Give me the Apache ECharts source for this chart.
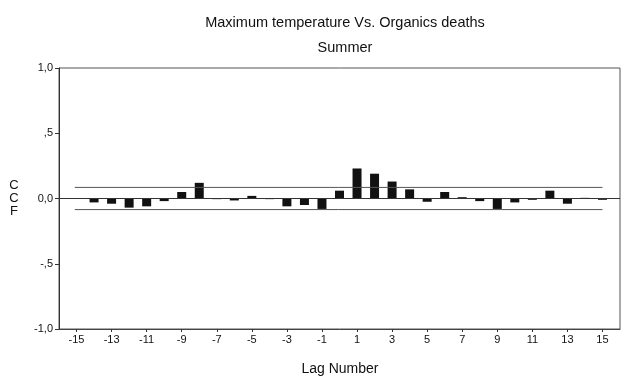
<!DOCTYPE html>
<html>
<head>
<meta charset="utf-8">
<script src="https://cdn.jsdelivr.net/npm/echarts@6/dist/echarts.min.js"></script>
<style>html,body{margin:0;padding:0;background:#fff;}#c{width:622px;height:378px;}</style>
</head>
<body>
<div id="c"></div>
<script>
var lags = [-15,-14,-13,-12,-11,-10,-9,-8,-7,-6,-5,-4,-3,-2,-1,0,1,2,3,4,5,6,7,8,9,10,11,12,13,14,15];
var ccf = [0.0,-0.03,-0.04,-0.07,-0.06,-0.02,0.05,0.12,-0.005,-0.015,0.02,-0.005,-0.06,-0.05,-0.08,0.06,0.23,0.19,0.13,0.07,-0.025,0.05,0.01,-0.02,-0.08,-0.03,-0.01,0.06,-0.04,0.005,-0.01];
var upperLimit = 0.085;
var lowerLimit = -0.085;
var xTickLabels = ['-15','-13','-11','-9','-7','-5','-3','-1','1','3','5','7','9','11','13','15'];
var yTickValues = [-1, -0.5, 0, 0.5, 1];
var yTickLabels = ['-1,0', '-,5', '0,0', ',5', '1,0'];

var barData = lags.map(function (l, i) { return [l, ccf[i]]; });
var chart = echarts.init(document.getElementById('c'));
var font = 'Liberation Sans, Arial, sans-serif';
function letter(t, y) {
  return { type: 'text', x: 14, y: y, style: { text: t, fontFamily: font, fontSize: 13,
    align: 'center', verticalAlign: 'middle', fill: '#111' } };
}
chart.setOption({
  backgroundColor: '#fff',
  animation: false,
  title: [
    { text: 'Maximum temperature Vs. Organics deaths', left: 340, top: 10, textAlign: 'center',
      textStyle: { fontFamily: font, fontSize: 14.5, fontWeight: 'normal', color: '#111' } },
    { text: 'Summer', left: 340, top: 35, textAlign: 'center',
      textStyle: { fontFamily: font, fontSize: 14.5, fontWeight: 'normal', color: '#111' } }
  ],
  graphic: [
    letter('C', 185), letter('C', 198), letter('F', 211),
    { type: 'text', x: 340, y: 369, style: { text: 'Lag Number', fontFamily: font, fontSize: 14,
      align: 'center', verticalAlign: 'middle', fill: '#111' } }
  ],
  grid: { left: 59, right: 2, top: 68, bottom: 49, show: true, borderColor: '#555', borderWidth: 1 },
  xAxis: [
    { type: 'value', min: -16, max: 16, show: false, splitLine: { show: false } },
    { type: 'category', data: xTickLabels, boundaryGap: true, position: 'bottom',
      axisLine: { show: true, onZero: false, lineStyle: { color: '#444' } },
      axisTick: { show: true, alignWithLabel: true, length: 3, lineStyle: { color: '#333' } },
      axisLabel: { fontFamily: font, fontSize: 11, color: '#111', margin: 5 },
      splitLine: { show: false } }
  ],
  yAxis: {
    type: 'value', min: -1, max: 1, interval: 0.5, position: 'left',
    axisLine: { show: true, onZero: false, lineStyle: { color: '#333' } },
    axisTick: { show: true, length: 4, lineStyle: { color: '#333' } },
    splitLine: { show: false },
    axisLabel: { fontFamily: font, fontSize: 11, color: '#111', margin: 6,
      formatter: function (v) {
        for (var i = 0; i < yTickValues.length; i++) { if (Math.abs(yTickValues[i] - v) < 1e-9) return yTickLabels[i]; }
        return '';
      } }
  },
  series: [
    { type: 'line', xAxisIndex: 0, data: [[-16, 0], [16, 0]], symbol: 'none', silent: true,
      lineStyle: { color: '#333', width: 1 } },
    { type: 'line', xAxisIndex: 0, data: [[lags[0] - 0.1, upperLimit], [lags[lags.length - 1], upperLimit]], symbol: 'none', silent: true,
      lineStyle: { color: '#555', width: 1 } },
    { type: 'line', xAxisIndex: 0, data: [[lags[0] - 0.1, lowerLimit], [lags[lags.length - 1], lowerLimit]], symbol: 'none', silent: true,
      lineStyle: { color: '#555', width: 1 } },
    { type: 'bar', xAxisIndex: 0, data: barData, barWidth: 9, itemStyle: { color: '#111' } }
  ]
});
</script>
</body>
</html>
